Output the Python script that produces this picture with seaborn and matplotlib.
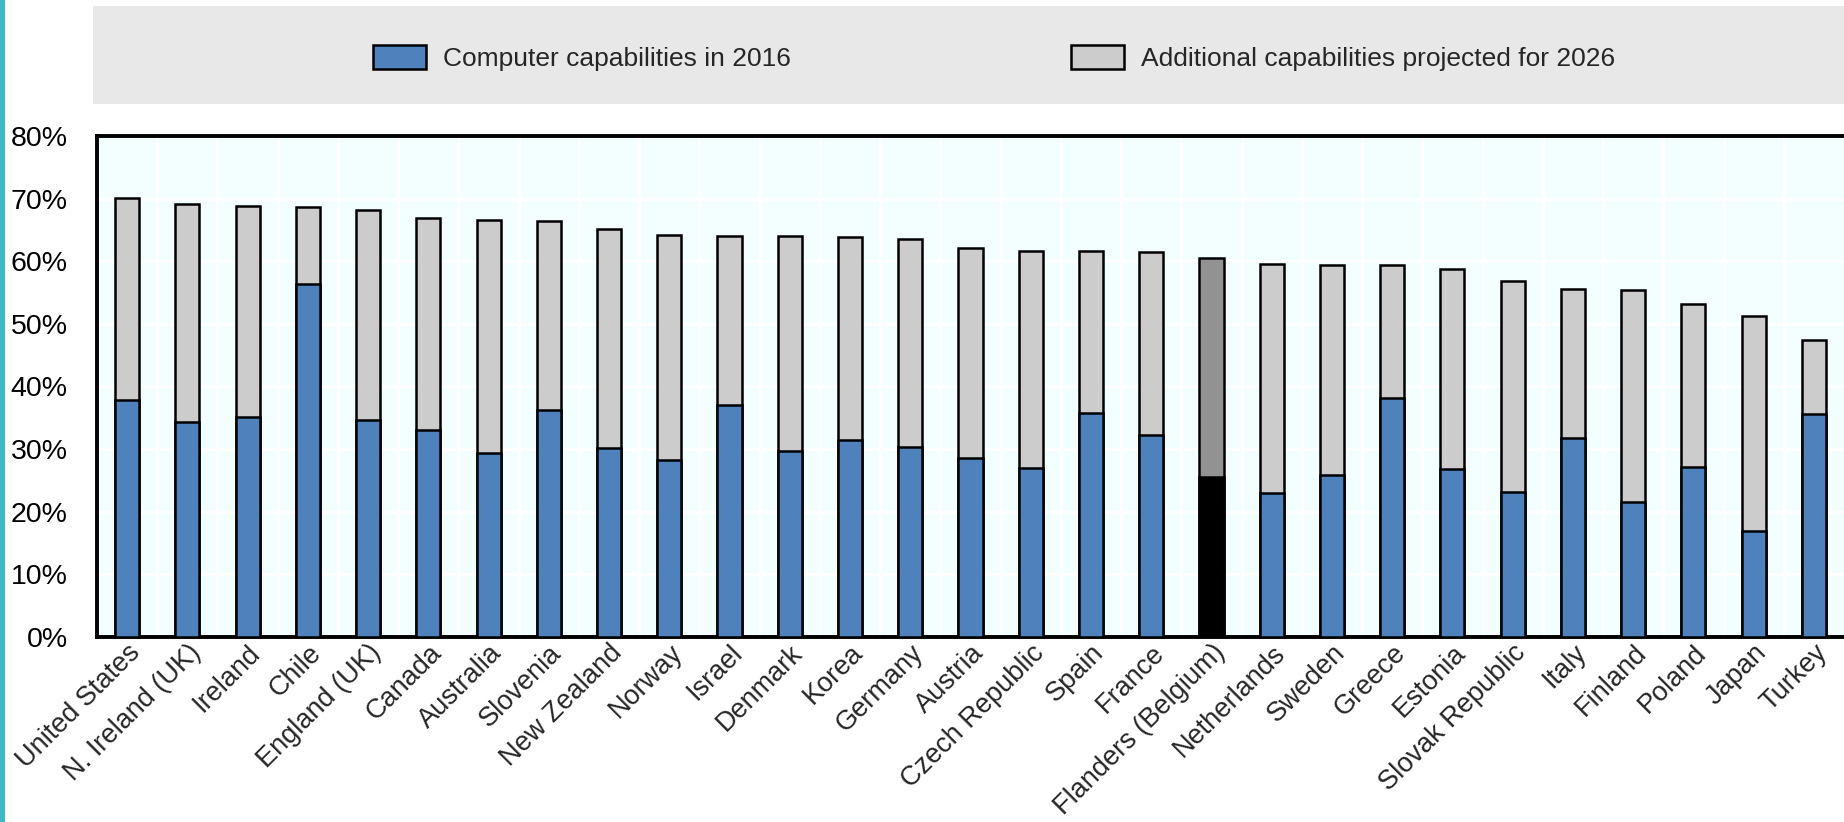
import matplotlib
matplotlib.use("Agg")
import matplotlib.pyplot as plt
import matplotlib.patches as mpatches
from matplotlib.ticker import FixedLocator, PercentFormatter
import seaborn as sns
import pandas as pd

countries = ["United States", "N. Ireland (UK)", "Ireland", "Chile", "England (UK)",
             "Canada", "Australia", "Slovenia", "New Zealand", "Norway", "Israel",
             "Denmark", "Korea", "Germany", "Austria", "Czech Republic", "Spain",
             "France", "Flanders (Belgium)", "Netherlands", "Sweden", "Greece",
             "Estonia", "Slovak Republic", "Italy", "Finland", "Poland", "Japan", "Turkey"]

# share of adult skills computers reproduce in 2016 (%)
cap_2016 = [37.8, 34.3, 35.1, 56.4, 34.7, 33.1, 29.4, 36.3, 30.1, 28.2, 37.0,
            29.7, 31.5, 30.4, 28.6, 27.0, 35.7, 32.2, 25.6, 23.0, 25.9, 38.2,
            26.9, 23.2, 31.7, 21.6, 27.1, 16.9, 35.6]

# total once the 2026 projection is added (%)
cap_2026 = [70.1, 69.1, 68.9, 68.6, 68.2, 66.9, 66.6, 66.5, 65.2, 64.2, 64.1,
            64.0, 63.8, 63.6, 62.1, 61.7, 61.6, 61.5, 60.5, 59.5, 59.4, 59.4,
            58.8, 56.8, 55.5, 55.4, 53.1, 51.2, 47.5]

legend_labels = ["Computer capabilities in 2016", "Additional capabilities projected for 2026"]

BLUE = "#4F81BD"
GREY = "#CCCCCC"
highlight = "Flanders (Belgium)"

df = pd.DataFrame({"country": countries, "y2016": cap_2016, "y2026": cap_2026})

sns.set_theme(style="white")
plt.rcParams["font.family"] = ["Liberation Sans", "DejaVu Sans"]

fig = plt.figure(figsize=(18.44, 8.22), dpi=100)
ax = fig.add_axes([97 / 1844, 1 - 637 / 822, 1 - 97 / 1844, (637 - 136) / 822])
ax.set_facecolor("#F2FEFF")

top_pal = {c: ("#929292" if c == highlight else GREY) for c in countries}
low_pal = {c: ("#000000" if c == highlight else BLUE) for c in countries}

sns.barplot(data=df, x="country", y="y2026", hue="country", palette=top_pal, saturation=1,
            width=0.4, edgecolor="black", linewidth=1.8, legend=False, ax=ax, zorder=3)
sns.barplot(data=df, x="country", y="y2016", hue="country", palette=low_pal, saturation=1,
            width=0.4, edgecolor="black", linewidth=1.8, legend=False, ax=ax, zorder=3)

ax.set_xlim(-0.5, len(countries) - 0.5)
ax.set_ylim(0, 80)
ax.set_xlabel("")
ax.set_ylabel("")

# grid: white lines on the light background, vertical ones between categories
ax.yaxis.set_major_locator(FixedLocator(range(0, 81, 10)))
ax.yaxis.set_major_formatter(PercentFormatter(decimals=0))
ax.xaxis.set_minor_locator(FixedLocator([i + 0.5 for i in range(len(countries) - 1)]))
ax.grid(axis="y", which="major", color="white", linewidth=2.2, zorder=0)
ax.grid(axis="x", which="minor", color="white", linewidth=2.2, zorder=0)
ax.grid(axis="x", which="major", visible=False)
ax.set_axisbelow(True)

ax.tick_params(axis="y", direction="in", length=8, width=2, labelsize=20.5, pad=21, colors="black")
ax.tick_params(axis="x", which="major", length=0, labelsize=19.5, pad=2)
ax.tick_params(axis="x", which="minor", direction="in", length=6, width=2, color="black")
for lab in ax.get_xticklabels():
    lab.set_rotation(45)
    lab.set_ha("right")
    lab.set_va("top")
    lab.set_rotation_mode("anchor")

for side in ["left", "bottom", "top"]:
    ax.spines[side].set_visible(True)
    ax.spines[side].set_color("black")
    ax.spines[side].set_linewidth(2.8)
ax.spines["right"].set_visible(False)

# teal strip on the left border and grey legend band
fig.patches.append(mpatches.Rectangle((0, 0), 5 / 1844, 1, transform=fig.transFigure,
                                      facecolor="#3CB9C0", edgecolor="none"))
fig.patches.append(mpatches.Rectangle((93 / 1844, 1 - 104 / 822), 1 - 93 / 1844, 98 / 822,
                                      transform=fig.transFigure, facecolor="#E8E8E8",
                                      edgecolor="none", zorder=0))

handles = [mpatches.Patch(facecolor=BLUE, edgecolor="black", linewidth=1.8),
           mpatches.Patch(facecolor=GREY, edgecolor="black", linewidth=1.8)]
fig.legend(handles, legend_labels, loc="center", bbox_to_anchor=(994 / 1844, 1 - 58 / 822),
           ncol=2, frameon=False, fontsize=19, handlelength=2.0, handleheight=1.0,
           handletextpad=0.65, columnspacing=10.6)

fig.savefig("out.png", dpi=100)
